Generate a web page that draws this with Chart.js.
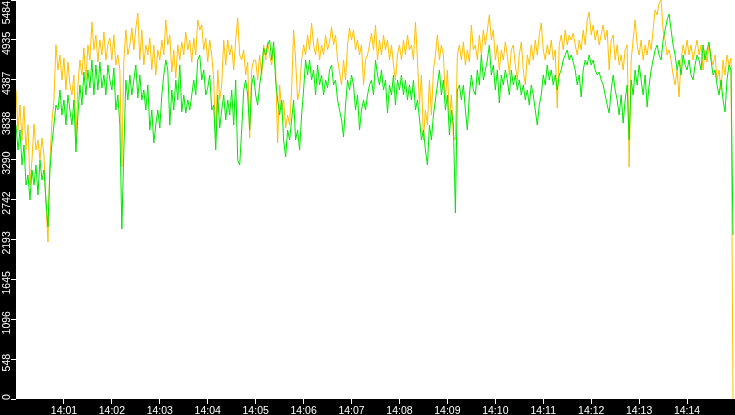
<!DOCTYPE html>
<html>
<head>
<meta charset="utf-8">
<script src="https://cdn.jsdelivr.net/npm/chart.js@4.4.1/dist/chart.umd.min.js"></script>
<style>
  html, body { margin: 0; padding: 0; background: #000; overflow: hidden; }
  canvas { display: block; }
</style>
</head>
<body>
<canvas id="myChart" width="735" height="415"></canvas>
<script>
// one sample every 2.5 s starting at 14:00:00
const sampleStep = 2.5;
const axisEnd = 900;

const xTickLabels = ['14:01', '14:02', '14:03', '14:04', '14:05', '14:06', '14:07',
                     '14:08', '14:09', '14:10', '14:11', '14:12', '14:13', '14:14'];
const yTickLabels = ['0', '548', '1096', '1645', '2193', '2742', '3290', '3838', '4387', '4935', '5484'];
const yMax = 5484;

const orangeValues = [
    4247, 3697, 4041, 3560, 4027, 3422, 3766, 2941, 3285, 3780,
    3422, 3560, 3285, 3587, 3354, 2666, 2158, 3285, 3807, 4110,
    4866, 4522, 4728, 4385, 4687, 4247, 4632, 4316, 4178, 4453,
    3560, 4316, 4659, 4453, 4824, 4385, 4866, 4659, 5182, 4797,
    5003, 4632, 4934, 4728, 5044, 4659, 4866, 4962, 4659, 5003,
    4591, 4728, 4522, 3189, 4659, 5072, 4728, 4866, 5099, 4797,
    5099, 5305, 4659, 5072, 4591, 4866, 4728, 4962, 4522, 4866,
    4453, 4797, 4659, 4934, 4728, 5209, 4866, 5003, 4494, 4797,
    4412, 4866, 4659, 4907, 4728, 5044, 4797, 4934, 4632, 4962,
    4728, 5209, 5072, 5140, 4797, 4962, 4632, 4934, 4728, 4385,
    3587, 4522, 4110, 4316, 4934, 4591, 4934, 4728, 4866, 4522,
    4934, 5237, 4728, 4659, 4797, 4453, 4632, 3587, 4522, 4659,
    4659, 4385, 4728, 4453, 4866, 4659, 4907, 4728, 4591, 4824,
    4522, 3519, 4316, 3972, 4110, 3725, 3903, 3766, 4247, 5072,
    4659, 4110, 4247, 4659, 4866, 4728, 5003, 4797, 5168, 4866,
    4728, 4962, 4659, 4866, 4728, 5003, 4797, 4907, 5113, 4866,
    5003, 4659, 4494, 4316, 4659, 4385, 4866, 5099, 4934, 5072,
    4797, 4934, 4728, 4866, 4316, 4659, 4728, 4866, 5030, 4797,
    5140, 4659, 4934, 4728, 5003, 4797, 4934, 4659, 4866, 4591,
    4385, 4728, 4866, 4659, 4934, 4728, 5003, 4797, 4866, 4659,
    5182, 4659, 4041, 4453, 3560, 3972, 3766, 4385, 3903, 4522,
    4728, 5003, 4659, 4866, 4728, 4110, 4522, 3835, 4178, 3601,
    3560, 4728, 4866, 4659, 4907, 4591, 4797, 4632, 5140, 4797,
    4866, 4659, 5003, 4728, 5072, 4866, 5072, 5278, 4934, 5072,
    4659, 4866, 4522, 4797, 4659, 4907, 4728, 4453, 4797, 4866,
    4591, 4385, 4728, 4907, 4522, 4316, 4728, 4591, 4866, 4659,
    4934, 4728, 5003, 5168, 4797, 4659, 4866, 4728, 4934, 4659,
    4797, 3999, 4866, 5003, 4797, 5072, 4866, 5003, 4934, 5030,
    4866, 4728, 4934, 4797, 5072, 4866, 5209, 5319, 5003, 5140,
    4934, 5072, 4866, 5003, 5140, 4934, 5072, 4522, 4934, 5003,
    4659, 4866, 4591, 4728, 4522, 4797, 4866, 3189, 4659, 4934,
    5209, 4866, 4728, 4934, 4659, 4866, 4728, 4934, 4797, 5072,
    5347, 5278, 5443, 5484, 5072, 4934, 4728, 4797, 4659, 4453,
    4316, 4522, 4151, 4659, 4866, 4728, 4934, 4728, 4866, 4659,
    4797, 4934, 4728, 4866, 4522, 4797, 4632, 4866, 4687, 4591,
    4728, 4385, 4522, 4247, 4659, 4453, 4728, 4591, 4687, 0
];

const greenValues = [
    3766, 3422, 3697, 3216, 3491, 2941, 3079, 2735, 3148, 2941,
    3216, 2804, 3285, 3010, 3148, 2735, 2364, 3148, 3519, 3766,
    4041, 3972, 4247, 3903, 4110, 3766, 4178, 3972, 3766, 4110,
    3395, 3903, 4316, 4041, 4494, 4178, 4522, 4275, 4659, 4178,
    4591, 4247, 4632, 4275, 4453, 4178, 4591, 4385, 4247, 4549,
    3972, 4178, 3766, 2337, 3422, 4385, 4110, 4453, 4178, 4385,
    4591, 4137, 4453, 4110, 4247, 3972, 4316, 3697, 3972, 3519,
    3766, 3972, 3725, 4178, 4453, 4659, 4522, 3766, 4247, 3972,
    4385, 4110, 4591, 3945, 4178, 3931, 4110, 3972, 4178, 4385,
    4178, 4659, 4728, 4385, 4522, 4178, 4275, 4453, 3972, 4041,
    3422, 4178, 3725, 3972, 4178, 3835, 4110, 3903, 4247, 3766,
    4385, 3285, 3216, 3697, 4247, 4385, 4178, 3697, 4316, 4453,
    4178, 4041, 4316, 4522, 4824, 4728, 4866, 4934, 4659, 4907,
    4385, 4110, 3903, 4110, 3560, 3326, 3697, 3560, 3835, 4110,
    3560, 3697, 3422, 3903, 4247, 4659, 4453, 4659, 4385, 4522,
    4178, 4591, 4316, 4453, 4178, 4385, 4275, 4522, 4591, 4316,
    4385, 4110, 3972, 3835, 3601, 4041, 4385, 4247, 4453, 4316,
    3972, 4178, 3697, 3972, 4110, 3972, 4178, 4316, 4385, 4178,
    4659, 4453, 4316, 4522, 4247, 4385, 3931, 4316, 4178, 4453,
    4041, 4385, 4247, 4453, 4178, 4385, 4110, 4316, 4110, 4385,
    3972, 4110, 3862, 3560, 3697, 3422, 3216, 3766, 3560, 3903,
    4110, 4316, 4522, 4178, 4385, 3972, 4178, 3629, 3972, 3766,
    2556, 4247, 4316, 4110, 4316, 3972, 3697, 4178, 4453, 4247,
    4178, 4522, 4316, 4728, 4385, 4522, 4659, 4866, 4453, 4591,
    4247, 4522, 4068, 4453, 4316, 4522, 4385, 4178, 4522, 4316,
    4453, 4247, 4385, 4178, 4316, 4110, 4247, 4041, 4316, 4178,
    3972, 3766, 4041, 4178, 4453, 4316, 4591, 4385, 4522, 4316,
    4453, 4247, 4453, 4522, 4659, 4728, 4797, 4659, 4728, 4632,
    4522, 4316, 4453, 4151, 4522, 4659, 4591, 4728, 4591, 4659,
    4522, 4453, 4494, 4385, 4316, 4178, 4041, 3931, 4247, 4453,
    4247, 4110, 3903, 4178, 3793, 4110, 4316, 3560, 4385, 4178,
    4522, 4316, 4591, 4385, 4178, 4453, 4013, 4316, 4522, 4659,
    4797, 4866, 4728, 4659, 4934, 5072, 5209, 5292, 5072, 4866,
    4728, 4522, 4659, 4453, 4728, 4591, 4522, 4659, 4453, 4385,
    4591, 4728, 4659, 4522, 4866, 4659, 4797, 4907, 4659, 4453,
    4522, 4316, 4178, 4385, 4110, 3945, 4385, 4591, 4522, 2254
];

function toPoints(values) {
    return values.map((v, i) => ({ x: i * sampleStep, y: v }));
}

const labelFont = '10.5px "Liberation Sans", Arial, sans-serif';

// black frame, white plot area
const backgroundPlugin = {
    id: 'background',
    beforeDraw(chart) {
        const c = chart.ctx;
        const a = chart.chartArea;
        c.save();
        c.fillStyle = '#000';
        c.fillRect(0, 0, chart.width, chart.height);
        c.fillStyle = '#fff';
        c.fillRect(a.left, a.top, a.right - a.left, a.bottom - a.top);
        c.restore();
    }
};

// vertical y labels (Chart.js can't place rotated y labels this way)
const yLabelPlugin = {
    id: 'yLabels',
    afterDraw(chart) {
        const c = chart.ctx;
        const scale = chart.scales.y;
        c.save();
        c.font = labelFont;
        c.fillStyle = '#fff';
        c.textAlign = 'center';
        c.textBaseline = 'alphabetic';
        scale.ticks.forEach((t, i) => {
            const text = yTickLabels[i];
            const half = c.measureText(text).width / 2;
            let cy = scale.getPixelForValue(t.value) + 3.5;
            if (cy - half < 1) cy = half + 1;
            if (cy + half > scale.bottom + 1) cy = scale.bottom + 1 - half;
            c.save();
            c.translate(10, cy);
            c.rotate(-Math.PI / 2);
            c.fillText(text, 0, 0);
            c.restore();
        });
        c.restore();
    }
};

const ctx = document.getElementById('myChart').getContext('2d');
const config = {
    type: 'line',
    data: {
        datasets: [{
            label: 'green',
            data: toPoints(greenValues),
            borderColor: '#00e800',
            borderWidth: 1,
            pointRadius: 0,
            tension: 0
        }, {
            label: 'orange',
            data: toPoints(orangeValues),
            borderColor: '#ffbf00',
            borderWidth: 1,
            pointRadius: 0,
            tension: 0
        }]
    },
    options: {
        responsive: false,
        animation: false,
        devicePixelRatio: 1,
        layout: { padding: 0 },
        plugins: { legend: { display: false }, tooltip: { enabled: false } },
        scales: {
            x: {
                type: 'linear',
                min: 0,
                max: axisEnd,
                border: { display: false },
                grid: { drawOnChartArea: false, drawTicks: true, tickLength: 5, color: '#fff' },
                ticks: {
                    color: '#fff',
                    font: { family: '"Liberation Sans", Arial, sans-serif', size: 10.5, lineHeight: 1 },
                    padding: 2,
                    maxRotation: 0,
                    autoSkip: false,
                    callback: (value, index) => xTickLabels[index]
                },
                afterBuildTicks(scale) {
                    scale.ticks = xTickLabels.map(l => ({ value: parseInt(l.split(':')[1], 10) * 60 }));
                },
                afterFit(scale) { scale.height = 16; }
            },
            y: {
                min: 0,
                max: yMax,
                border: { display: false },
                grid: { drawOnChartArea: false, drawTicks: true, tickLength: 5, color: '#fff' },
                ticks: { display: false },
                afterBuildTicks(scale) {
                    scale.ticks = yTickLabels.map(l => ({ value: Number(l) }));
                },
                afterFit(scale) { scale.width = 16; }
            }
        }
    },
    plugins: [backgroundPlugin, yLabelPlugin]
};

const myChart = new Chart(ctx, config);
</script>
</body>
</html>
